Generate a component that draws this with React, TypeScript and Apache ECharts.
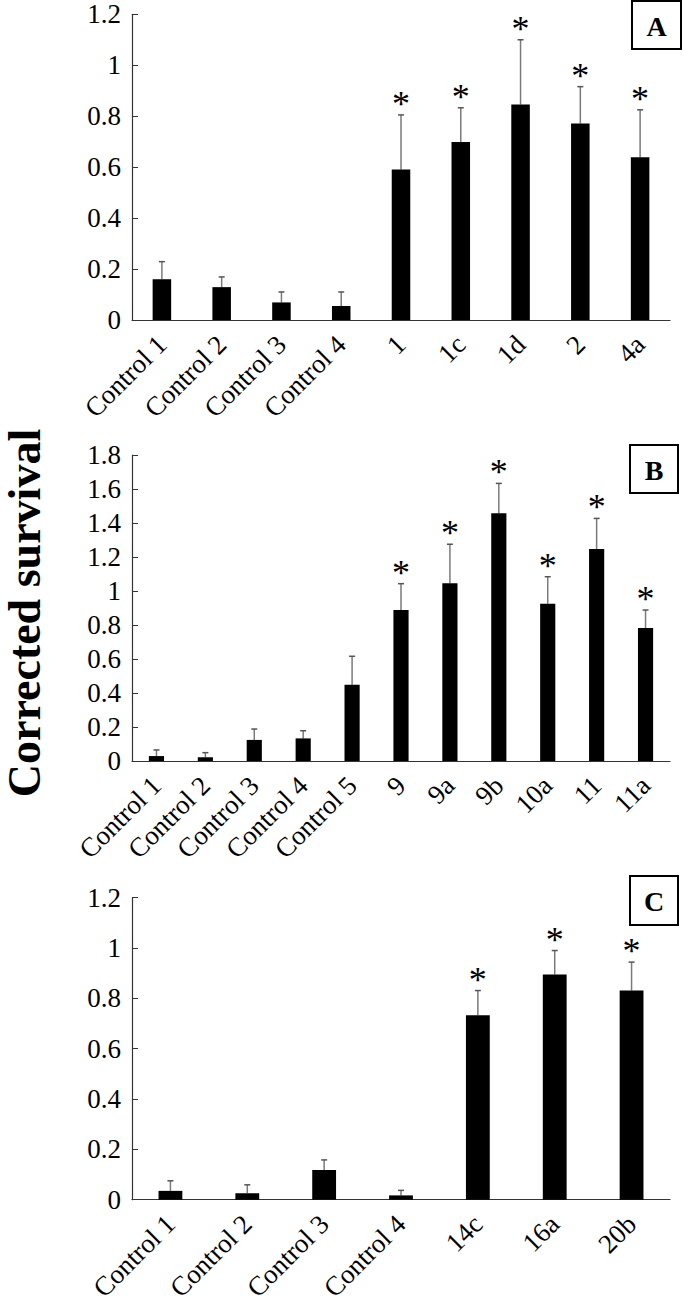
import React, { useEffect, useRef } from "react";
import * as echarts from "echarts";

const catsA = ["Control 1", "Control 2", "Control 3", "Control 4", "1", "1c", "1d", "2", "4a"];
const valsA = [0.16, 0.129, 0.069, 0.055, 0.591, 0.699, 0.846, 0.771, 0.639];
const errA = [0.069, 0.04, 0.041, 0.055, 0.214, 0.134, 0.254, 0.145, 0.186];
const sigA = [0, 0, 0, 0, 1, 1, 1, 1, 1];

const catsB = ["Control 1", "Control 2", "Control 3", "Control 4", "Control 5", "9", "9a", "9b", "10a", "11", "11a"];
const valsB = [0.029, 0.022, 0.124, 0.133, 0.449, 0.888, 1.045, 1.457, 0.925, 1.247, 0.782];
const errB = [0.036, 0.027, 0.064, 0.045, 0.167, 0.155, 0.23, 0.176, 0.159, 0.18, 0.106];
const sigB = [0, 0, 0, 0, 0, 1, 1, 1, 1, 1, 1];

const catsC = ["Control 1", "Control 2", "Control 3", "Control 4", "14c", "16a", "20b"];
const valsC = [0.035, 0.026, 0.118, 0.017, 0.733, 0.895, 0.831];
const errC = [0.04, 0.033, 0.04, 0.02, 0.098, 0.095, 0.113];
const sigC = [0, 0, 0, 0, 1, 1, 1];

const yMaxA = 1.2;
const yMaxB = 1.8;
const yMaxC = 1.2;
const panelLetters = ["A", "B", "C"];
const yTitle = "Corrected survival";

const FONT = "Liberation Serif";

export default function App() {
  const ref = useRef<HTMLDivElement>(null);
  useEffect(() => {
    if (!ref.current) return;
    const chart = echarts.init(ref.current, undefined, { renderer: "svg" });
    const panels = [
      { cats: catsA, vals: valsA, errs: errA, sig: sigA, max: yMaxA, top: 14.3, height: 305.7 },
      { cats: catsB, vals: valsB, errs: errB, sig: sigB, max: yMaxB, top: 455, height: 306 },
      { cats: catsC, vals: valsC, errs: errC, sig: sigC, max: yMaxC, top: 897.7, height: 305.6 },
    ];
    const grid = panels.map((p) => ({ left: 132, width: 538, top: p.top, height: p.height }));
    const xAxis = panels.map((p, i) => ({
      type: "category",
      gridIndex: i,
      data: p.cats,
      axisLine: { lineStyle: { color: "#333", width: 1.2 } },
      axisTick: { show: false },
      axisLabel: {
        rotate: 45,
        interval: 0,
        margin: 20,
        fontFamily: FONT,
        fontSize: 27,
        color: "#000",
      },
    }));
    const yAxis = panels.map((p, i) => ({
      type: "value",
      gridIndex: i,
      min: 0,
      max: p.max,
      interval: 0.2,
      splitLine: { show: false },
      axisLine: { show: true, lineStyle: { color: "#333", width: 1.2 } },
      axisTick: { show: true, inside: true, length: 6, lineStyle: { color: "#333" } },
      axisLabel: {
        margin: 11,
        fontFamily: FONT,
        fontSize: 27,
        color: "#000",
      },
    }));
    const series: any[] = [];
    panels.forEach((p, i) => {
      series.push({
        type: "bar",
        xAxisIndex: i,
        yAxisIndex: i,
        data: p.vals,
        barWidth: "31%",
        itemStyle: { color: "#000" },
        silent: true,
      });
      series.push({
        type: "custom",
        xAxisIndex: i,
        yAxisIndex: i,
        data: p.vals.map((v, k) => [k, v, p.errs[k], p.sig[k]]),
        renderItem: (params: any, api: any) => {
          const idx = api.value(0);
          const v = api.value(1);
          const e = api.value(2);
          const s = api.value(3);
          const b = api.coord([idx, v]);
          const t = api.coord([idx, v + e]);
          const children: any[] = [
            {
              type: "line",
              shape: { x1: b[0], y1: b[1], x2: t[0], y2: t[1] },
              style: { stroke: "#7a7a7a", lineWidth: 1.5 },
            },
            {
              type: "line",
              shape: { x1: t[0] - 3, y1: t[1], x2: t[0] + 3, y2: t[1] },
              style: { stroke: "#555", lineWidth: 1.5 },
            },
          ];
          if (s) {
            children.push({
              type: "text",
              x: t[0],
              y: t[1] + 7,
              style: {
                text: "*",
                fontFamily: FONT,
                fontSize: 36,
                fill: "#000",
                align: "center",
                verticalAlign: "bottom",
              },
            });
          }
          return { type: "group", children };
        },
      });
    });
    const boxes = [
      { x: 632, y: 1, w: 49, h: 48 },
      { x: 630, y: 445, w: 48, h: 48 },
      { x: 630, y: 876, w: 48, h: 49 },
    ];
    const graphic: any[] = [];
    boxes.forEach((b, i) => {
      graphic.push({
        type: "rect",
        shape: { x: b.x, y: b.y, width: b.w, height: b.h },
        style: { fill: "#fff", stroke: "#000", lineWidth: 2 },
      });
      graphic.push({
        type: "text",
        x: b.x + b.w / 2,
        y: b.y + b.h / 2 + 1,
        style: {
          text: panelLetters[i],
          fontFamily: FONT,
          fontWeight: "bold",
          fontSize: 28,
          fill: "#000",
          align: "center",
          verticalAlign: "middle",
        },
      });
    });
    graphic.push({
      type: "text",
      x: 24,
      y: 613,
      rotation: Math.PI / 2,
      style: {
        text: yTitle,
        fontFamily: FONT,
        fontWeight: "bold",
        fontSize: 46,
        fill: "#000",
        align: "center",
        verticalAlign: "middle",
      },
    });
    chart.setOption({
      animation: false,
      backgroundColor: "#fff",
      grid,
      xAxis,
      yAxis,
      series,
      graphic,
    });
    return () => chart.dispose();
  }, []);
  return (
    <div
      ref={ref}
      style={{ position: "absolute", left: 0, top: 0, width: 683, height: 1304 }}
    />
  );
}
